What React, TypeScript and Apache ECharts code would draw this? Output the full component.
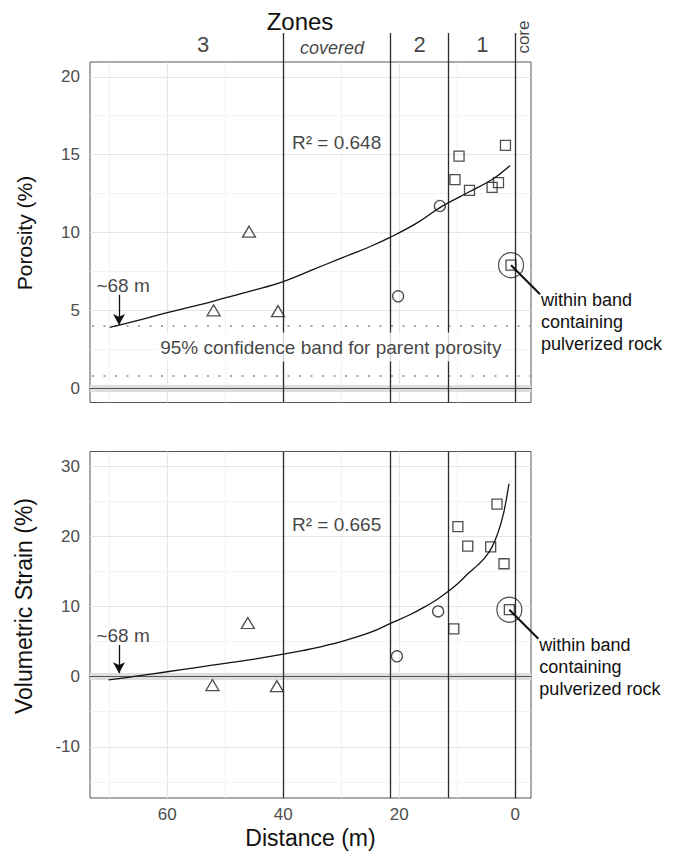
import React, { useEffect, useRef } from 'react';
import * as echarts from 'echarts';

const FONT = '"Liberation Sans", Arial, Helvetica, sans-serif';

// ---- axes / ticks ----
const xRange = [-2.7, 73.3];
const xTicks = [0, 20, 40, 60];
const xMinor = [10, 30, 50, 70];
const porosityRange = [-0.92, 20.95];
const porosityTicks = [0, 5, 10, 15, 20];
const porosityMinor = [2.5, 7.5, 12.5, 17.5];
const strainRange = [-17.3, 32.1];
const strainTicks = [-10, 0, 10, 20, 30];
const strainMinor = [-15, -5, 5, 15, 25];

// ---- zones ----
const zoneBounds = [40, 21.5, 11.5, 0];
const zoneNames = ['3', 'covered', '2', '1', 'core'];
const zoneNameX = [53.8, 31.6, 16.5, 5.7, -1.4];
const zoneNameY = [0.62, 0.5, 0.62, 0.62, 0.86];

// ---- porosity panel ----
const porositySquares = [[10.4, 13.4], [9.7, 14.9], [7.9, 12.7], [4.0, 12.9], [2.9, 13.2], [1.7, 15.6]];
const porosityOutlier = [[0.74, 7.9]];
const porosityCircles = [[13.0, 11.7], [20.2, 5.9]];
const porosityTriangles = [[52.0, 5.0], [45.9, 10.05], [40.9, 4.95]];
const porosityFit = [[69.9, 3.9], [65, 4.35], [60, 4.85], [55, 5.3], [50, 5.8], [45, 6.3], [40, 6.85], [35, 7.6], [30, 8.35], [25, 9.1], [21.5, 9.7], [17, 10.6], [13, 11.6], [8, 12.6], [4, 13.4], [0.9, 14.3]];
const parentBand = [4.0, 0.82];
const porosityR2 = 'R² = 0.648';

// ---- strain panel ----
const strainSquares = [[10.6, 6.8], [9.9, 21.4], [8.2, 18.6], [4.25, 18.5], [3.16, 24.6], [1.95, 16.1]];
const strainOutlier = [[1.03, 9.55]];
const strainCircles = [[13.3, 9.3], [20.4, 2.9]];
const strainTriangles = [[52.2, -1.2], [46.1, 7.65], [41.1, -1.35]];
const strainFit = [[70.1, -0.45], [67, -0.15], [65, 0.1], [60, 0.7], [55, 1.3], [50, 1.9], [45, 2.5], [40, 3.2], [35, 4.0], [30, 5.0], [25, 6.3], [21.5, 7.6], [18, 8.9], [15.5, 10.0], [13.5, 11.0], [11.5, 12.2], [10, 13.2], [8, 14.8], [6.5, 15.9], [5.2, 17.0], [4, 18.5], [3, 20.5], [2, 23.4], [1.1, 27.5]];
const strainR2 = 'R² = 0.665';

const onsetDistance = 68.3;
const onsetLabel = '~68 m';
const bandLabel = '95% confidence band for parent porosity';
const outlierNote = 'within band\ncontaining\npulverized rock';

const ML_BASE = { silent: true, symbol: 'none', label: { show: false }, emphasis: { disabled: true }, animation: false };

function panelSeries(p: number, opts: any) {
  const ax = { xAxisIndex: p, yAxisIndex: p };
  const s: any[] = [];
  // grid lines
  s.push({
    type: 'line', ...ax, data: [], z: 1,
    markLine: {
      ...ML_BASE, z: 1,
      data: [
        ...xMinor.map(v => ({ xAxis: v, lineStyle: { color: '#f0f0f0', width: 0.8, type: 'solid' } })),
        ...opts.yMinor.map((v: number) => ({ yAxis: v, lineStyle: { color: '#f0f0f0', width: 0.8, type: 'solid' } })),
        ...xTicks.map(v => ({ xAxis: v, lineStyle: { color: '#e6e6e6', width: 1.2, type: 'solid' } })),
        ...opts.yTicks.map((v: number) => ({ yAxis: v, lineStyle: { color: '#e6e6e6', width: 1.2, type: 'solid' } })),
      ],
    },
  });
  // zero band + line + dotted band
  s.push({
    type: 'line', ...ax, data: [], z: 2,
    markLine: {
      ...ML_BASE, z: 2,
      data: [
        { yAxis: 0, lineStyle: { color: '#dedede', width: 7, type: 'solid' } },
        { yAxis: 0, lineStyle: { color: '#555', width: 1, type: 'solid' } },
        ...(opts.dotted || []).map((v: number) => ({ yAxis: v, lineStyle: { color: '#a8a8a8', width: 2, type: [2, 9.5] } })),
      ],
    },
  });
  // zone lines
  s.push({
    type: 'line', ...ax, data: [], z: 3,
    markLine: {
      ...ML_BASE, z: 3,
      data: zoneBounds.map(v => ({ xAxis: v, lineStyle: { color: '#2a2a2a', width: 1.3, type: 'solid' } })),
    },
  });
  // fit curve + onset arrow
  s.push({
    type: 'line', ...ax, data: opts.fit, z: 6, smooth: 0.4, showSymbol: false, symbol: 'none',
    lineStyle: { color: '#111', width: 1.3 }, silent: true,
    markLine: {
      silent: true, z: 6, symbol: ['none', 'arrow'], symbolSize: [9, 11], label: { show: false }, animation: false,
      lineStyle: { color: '#111', width: 1.3, type: 'solid' },
      data: [[{ coord: [onsetDistance, opts.arrow[0]] }, { coord: [onsetDistance, opts.arrow[1]] }]],
    },
  });
  const sym = { color: 'rgba(255,255,255,0)', borderColor: '#222', borderWidth: 1.3 };
  s.push({ type: 'scatter', ...ax, z: 7, data: opts.squares, symbol: 'rect', symbolSize: 10, itemStyle: sym, silent: true });
  s.push({ type: 'scatter', ...ax, z: 7, data: opts.outlier, symbol: 'rect', symbolSize: 10, itemStyle: sym, silent: true });
  s.push({ type: 'scatter', ...ax, z: 7, data: opts.outlier, symbol: 'circle', symbolSize: 25, itemStyle: { ...sym, borderWidth: 1.2 }, silent: true });
  s.push({ type: 'scatter', ...ax, z: 7, data: opts.circles, symbol: 'circle', symbolSize: 11, itemStyle: sym, silent: true });
  s.push({ type: 'scatter', ...ax, z: 7, data: opts.triangles, symbol: 'triangle', symbolSize: [13, 11], itemStyle: sym, silent: true });
  // text annotations
  const labels = opts.labels.map((l: any) => ({
    value: l.at,
    label: { show: true, position: 'inside', formatter: l.text, color: '#111', fontSize: 19, fontFamily: FONT, ...(l.style || {}) },
  }));
  s.push({ type: 'scatter', ...ax, z: 10, data: labels, symbolSize: 0, silent: true });
  return s;
}

export default function App() {
  const ref = useRef<HTMLDivElement>(null);
  useEffect(() => {
    document.body.style.margin = '0';
    const chart = echarts.init(ref.current!, null, { renderer: 'svg' });
    const L = 90, W = 441;
    const tickStyle = { color: '#333', width: 1 };
    const labelStyle = { color: '#4d4d4d', fontSize: 17, fontFamily: FONT };
    const xAxisFor = (i: number) => ({
      gridIndex: i, type: 'value', min: xRange[0], max: xRange[1], inverse: true,
      show: i > 0,
      axisLine: { show: true, lineStyle: { color: '#555', width: 1 } },
      splitLine: { show: false },
      axisTick: { show: i > 0, customValues: xTicks, length: 5, lineStyle: tickStyle },
      axisLabel: { show: i === 2, customValues: xTicks, margin: 8, ...labelStyle },
      ...(i === 2 ? {
        name: 'Distance (m)', nameLocation: 'middle', nameGap: 28,
        nameTextStyle: { fontSize: 23, color: '#111', fontFamily: FONT },
      } : {}),
    });
    const yAxisFor = (i: number, range: number[], ticks: number[]) => ({
      gridIndex: i, type: 'value', min: range[0], max: range[1],
      axisLine: { show: true, lineStyle: { color: '#555', width: 1 } },
      splitLine: { show: false },
      axisTick: { show: true, customValues: ticks, length: 5, lineStyle: tickStyle },
      axisLabel: { show: true, customValues: ticks, margin: 10, ...labelStyle },
    });

    const header = {
      type: 'scatter', xAxisIndex: 0, yAxisIndex: 0, symbolSize: 0, silent: true, z: 5,
      data: zoneNames.map((n, i) => ({
        value: [zoneNameX[i], zoneNameY[i]],
        label: {
          show: true, position: 'inside', formatter: n, color: '#111', fontFamily: FONT,
          fontSize: n === 'covered' ? 18 : (n === 'core' ? 17 : 22),
          fontStyle: n === 'covered' ? 'italic' : 'normal',
          rotate: n === 'core' ? 90 : 0,
        },
      })),
      markLine: {
        ...ML_BASE, z: 3,
        data: zoneBounds.map(v => ({ xAxis: v, lineStyle: { color: '#2a2a2a', width: 1.3, type: 'solid' } })),
      },
    };

    const titleStyle = { fontFamily: FONT, fill: '#111', textAlign: 'center', textVerticalAlign: 'middle' };
    const baseGraphic = [
      { type: 'text', x: 300, y: 21, style: { text: 'Zones', fontSize: 24, ...titleStyle } },
      { type: 'text', x: 24, y: 233, rotation: Math.PI / 2, style: { text: 'Porosity (%)', fontSize: 21, ...titleStyle } },
      { type: 'text', x: 24, y: 606, rotation: Math.PI / 2, style: { text: 'Volumetric Strain (%)', fontSize: 23, ...titleStyle } },
    ];

    const option: any = {
      animation: false,
      backgroundColor: '#fff',
      textStyle: { fontFamily: FONT },
      grid: [
        { left: L, width: W, top: 33, height: 29, show: false },
        { left: L, width: W, top: 62, height: 340.5, show: true, borderColor: '#555', borderWidth: 1, backgroundColor: 'transparent' },
        { left: L, width: W, top: 451.5, height: 346.5, show: true, borderColor: '#555', borderWidth: 1, backgroundColor: 'transparent' },
      ],
      xAxis: [xAxisFor(0), xAxisFor(1), xAxisFor(2)],
      yAxis: [
        { gridIndex: 0, type: 'value', min: 0, max: 1, show: false },
        yAxisFor(1, porosityRange, porosityTicks),
        yAxisFor(2, strainRange, strainTicks),
      ],
      graphic: baseGraphic,
      series: [
        header,
        ...panelSeries(1, {
          yTicks: porosityTicks, yMinor: porosityMinor, dotted: parentBand,
          fit: porosityFit, arrow: [6.0, 4.05],
          squares: porositySquares, outlier: porosityOutlier, circles: porosityCircles, triangles: porosityTriangles,
          labels: [
            { at: [30.8, 15.8], text: porosityR2 },
            { at: [67.6, 6.6], text: onsetLabel },
            { at: [31.8, 2.64], text: bandLabel, style: { backgroundColor: '#fff', padding: [5, 3] } },
          ],
        }),
        ...panelSeries(2, {
          yTicks: strainTicks, yMinor: strainMinor,
          fit: strainFit, arrow: [4.5, 0.5],
          squares: strainSquares, outlier: strainOutlier, circles: strainCircles, triangles: strainTriangles,
          labels: [
            { at: [30.8, 21.7], text: strainR2 },
            { at: [67.6, 5.86], text: onsetLabel },
          ],
        }),
      ],
    };
    chart.setOption(option);

    const notes: any[] = [];
    [[1, porosityOutlier[0]], [2, strainOutlier[0]]].forEach(([g, pt]: any) => {
      const p = chart.convertToPixel({ xAxisIndex: g, yAxisIndex: g }, pt) as number[];
      notes.push({ type: 'line', shape: { x1: p[0], y1: p[1], x2: p[0] + 29, y2: p[1] + 29 }, style: { stroke: '#111', lineWidth: 2 }, z: 20 });
      notes.push({
        type: 'text', x: p[0] + 30, y: p[1] + 24, z: 20,
        style: { text: outlierNote, fontSize: 18, lineHeight: 22, fontFamily: FONT, fill: '#111', textAlign: 'left', textVerticalAlign: 'top' },
      });
    });
    chart.setOption({ graphic: [...baseGraphic, ...notes] }, { replaceMerge: ['graphic'] });

    return () => chart.dispose();
  }, []);
  return <div ref={ref} style={{ width: 691, height: 851, position: 'absolute', left: 0, top: 0 }} />;
}
